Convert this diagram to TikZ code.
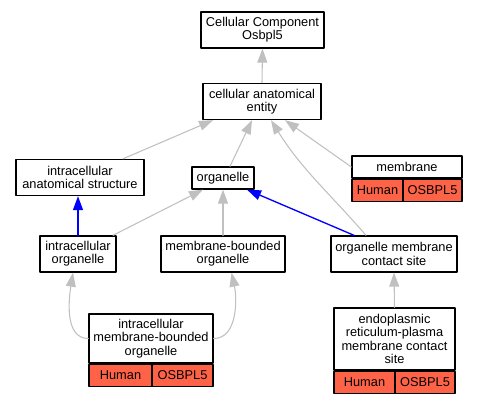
\documentclass[tikz,border=0pt]{standalone}
\usepackage{fontspec}
\setmainfont{Liberation Sans}
\usetikzlibrary{arrows.meta}
\definecolor{tomato}{RGB}{255,99,71}
\definecolor{edgegray}{RGB}{192,192,192}
\begin{document}
\begin{tikzpicture}[line cap=round,line join=round,>={Triangle[length=10.5pt,width=7.5pt]},x=0.75pt,y=0.75pt,
	term/.style={draw=black,line width=1pt,fill=white,align=center,inner sep=0pt,font=\fontsize{9.6}{10}\selectfont},
	cell/.style={term,fill=tomato,minimum height=16.5pt},
	isa/.style={->,draw=edgegray,line width=0.8pt},
	partof/.style={->,draw=blue,line width=1pt}]
				\useasboundingbox (0,0) rectangle (477,403);
				% terms
				\node[term,minimum width=92.25pt,minimum height=27pt] (top) at (262.5,373) {Cellular Component\\Osbpl5};
				\node[term,minimum width=88.5pt,minimum height=27pt] (cae) at (262,301.5) {cellular anatomical\\entity};
				\node[term,minimum width=96pt,minimum height=27pt] (ias) at (80,225.5) {intracellular\\anatomical structure};
				\node[term,minimum width=46.5pt,minimum height=16.5pt] (org) at (223,225) {organelle};
				\node[term,minimum width=82.5pt,minimum height=16.5pt] (mem) at (407,236) {membrane};
				\node[cell,minimum width=38.25pt,anchor=north west] (memh) at (mem.south west) {Human};
				\node[cell,minimum width=44.25pt,anchor=north east] (memg) at (mem.south east) {OSBPL5};
				\node[term,minimum width=57pt,minimum height=27pt] (io) at (78,149) {intracellular\\organelle};
				\node[term,minimum width=93pt,minimum height=27pt] (mbo) at (223,149) {membrane-bounded\\organelle};
				\node[term,minimum width=94.5pt,minimum height=27pt] (oms) at (394,149) {organelle membrane\\contact site};
				\node[term,minimum width=93pt,minimum height=36.75pt] (imbo) at (151,64.5) {intracellular\\membrane-bounded\\organelle};
				\node[cell,minimum width=47.25pt,anchor=north west] (imboh) at (imbo.south west) {Human};
				\node[cell,minimum width=45.75pt,anchor=north east] (imbog) at (imbo.south east) {OSBPL5};
				\node[term,minimum width=90.75pt,minimum height=46.5pt] (er) at (394.5,64) {endoplasmic\\reticulum-plasma\\membrane contact\\site};
				\node[cell,minimum width=45.75pt,anchor=north west] (erh) at (er.south west) {Human};
				\node[cell,minimum width=45pt,anchor=north east] (erg) at (er.south east) {OSBPL5};
				% is_a edges
				\draw[isa] (cae.north) -- (top.south);
				\draw[isa] ([xshift=32.25pt]ias.north) -- ([xshift=-36.75pt]cae.south);
				\draw[isa] ([xshift=5.25pt]org.north) -- ([xshift=-7.5pt]cae.south);
				\draw[isa] ([xshift=-21pt]oms.north) to[out=131,in=-58] ([xshift=6.75pt]cae.south);
				\draw[isa] (mem.west) -- ([xshift=17.25pt]cae.south);
				\draw[isa] ([xshift=26.25pt]io.north) -- ([xshift=-15pt]org.south);
				\draw[isa] (mbo.north) -- (org.south);
				\draw[isa] (imbo.west) .. controls (64,64.5) and (69,105) .. ([xshift=-3.75pt]io.south);
				\draw[isa] (imbo.east) .. controls (238,64.5) and (237,105) .. ([xshift=6.4pt]mbo.south);
				\draw[isa] (er.north) -- (oms.south);
				% part_of edges
				\draw[partof] (io.north) -- (io.north |- ias.south);
				\draw[partof] ([xshift=-30pt]oms.north) -- ([xshift=18pt]org.south);
\end{tikzpicture}
\end{document}
